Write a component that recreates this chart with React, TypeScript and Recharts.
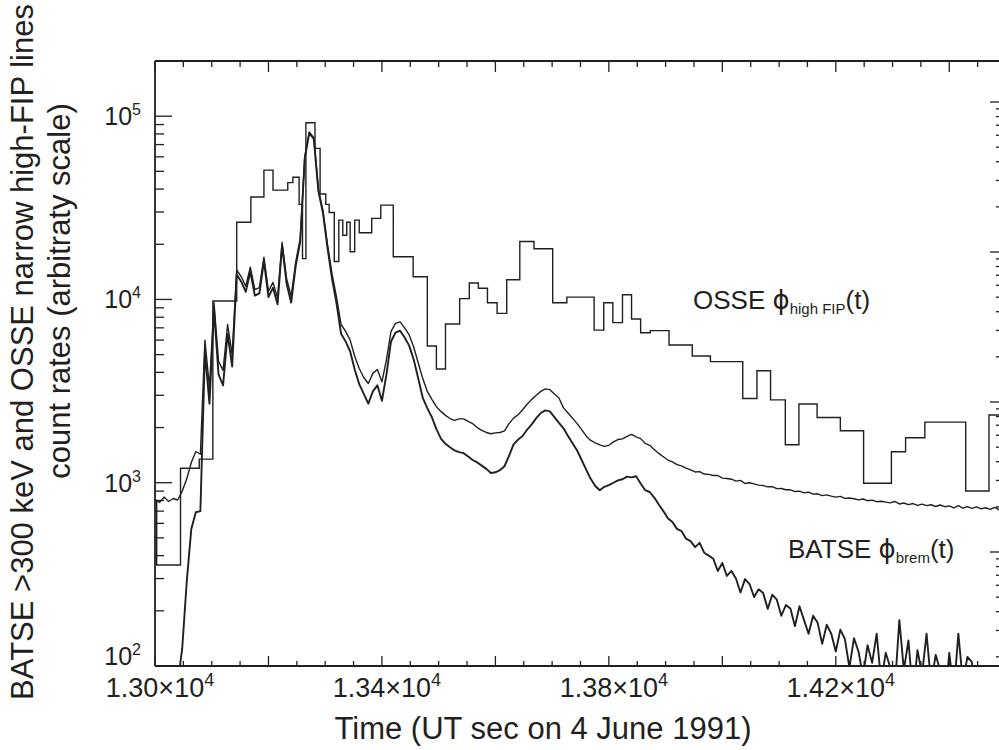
import React from "react";
import { LineChart, Line, XAxis, YAxis } from "recharts";

const INK = "#231f20";
const SANS = "'Liberation Sans', Arial, Helvetica, sans-serif";
const PHI_FONT = "'DejaVu Sans', 'Liberation Sans', sans-serif";

// OSSE narrow high-FIP line count rate: bin start times (UT s) and rates
const osseTimes = [
  13000, 13003, 13045, 13078, 13102, 13144, 13169, 13192, 13208, 13234,
  13243, 13254, 13260, 13266, 13282, 13291, 13301, 13307, 13316, 13324,
  13331, 13338, 13344, 13352, 13360, 13382, 13398, 13420, 13455, 13480,
  13496, 13512, 13537, 13554, 13570, 13586, 13603, 13620, 13643, 13668,
  13701, 13726, 13774, 13791, 13807, 13824, 13840, 13856, 13873, 13906,
  13947, 13979, 14036, 14061, 14085, 14111, 14135, 14167, 14208, 14249,
  14298, 14323, 14357, 14429, 14470, 14500,
];
const osseRates = [
  800, 356, 1200, 1345, 9800, 26400, 36200, 50800, 39500, 43400,
  46400, 33000, 16700, 92000, 66700, 37600, 33000, 29800, 16100, 27100,
  22400, 26400, 18200, 27100, 23100, 27700, 32700, 17100, 13300, 5570,
  4170, 7350, 10100, 12300, 11500, 9600, 8400, 12800, 20700, 18900,
  9600, 10300, 6800, 9600, 7470, 10600, 7820, 6580, 6760, 5640,
  4910, 4580, 2880, 4080, 2830, 1610, 2690, 2270, 1920, 993,
  1475, 1760, 2140, 902, 2340, 2340,
];

// BATSE >300 keV samples: first sample time and cadence (s)
const BATSE_START = 13000;
const BATSE_CADENCE = 8;

// BATSE total count rate (with background)
const batseTotal = [
  810, 780, 835, 790, 820, 805, 900, 1050, 1290, 1480,
  1430, 6000, 3300, 9600, 4600, 4100, 7300, 5000, 14500, 13300,
  11800, 15000, 11300, 11600, 17000, 11100, 12400, 10200, 20500, 13000,
  10400, 16000, 21500, 60000, 82000, 76000, 40000, 30500, 20000, 13800,
  10300, 7300, 6700, 6000, 4900, 4200, 3750, 3480, 3950, 4150,
  3550, 4700, 6700, 7400, 7550, 7000, 6400, 5500, 4500, 3700,
  3150, 2850, 2600, 2450, 2330, 2240, 2190, 2230, 2230, 2160,
  2100, 2000, 1930, 1880, 1850, 1870, 1880, 1920, 2100, 2250,
  2350, 2500, 2680, 2850, 3000, 3150, 3250, 3220, 3050, 2900,
  2560, 2400, 2250, 2100, 1950, 1800, 1700, 1650, 1610, 1580,
  1600, 1670, 1720, 1735, 1790, 1835, 1780, 1740, 1640, 1600,
  1520, 1445, 1385, 1330, 1300, 1255, 1235, 1200, 1175, 1145,
  1150, 1115, 1110, 1095, 1095, 1060, 1055, 1045, 1020, 1030,
  990, 1000, 985, 970, 965, 950, 952, 928, 930, 915,
  915, 895, 900, 880, 888, 866, 870, 850, 858, 845,
  835, 842, 822, 826, 818, 806, 815, 798, 804, 788,
  792, 784, 776, 790, 766, 775, 760, 770, 752, 764,
  750, 758, 742, 756, 740, 748, 730, 750, 726, 740,
  725, 738, 720, 730, 716, 734, 712, 726,
];

// BATSE background-subtracted count rate (bremsstrahlung)
const batseNet = [
  50, 50, 50, 50, 55, 80, 125, 290, 560, 690,
  700, 5200, 2700, 8800, 3900, 3400, 6500, 4300, 13700, 12500,
  11000, 14200, 10500, 10800, 16200, 10300, 11600, 9400, 19700, 12200,
  9600, 15200, 20700, 59000, 81000, 75000, 39000, 29700, 19200, 13000,
  9500, 6500, 5900, 5200, 4150, 3450, 3050, 2700, 3150, 3400,
  2800, 3900, 5900, 6600, 6750, 6200, 5600, 4700, 3700, 2900,
  2550, 2280, 1960, 1740, 1630, 1560, 1500, 1470, 1450, 1390,
  1330, 1290, 1240, 1190, 1130, 1140, 1170, 1230, 1400, 1620,
  1720, 1800, 1950, 2080, 2250, 2400, 2480, 2450, 2280, 2120,
  1980, 1800, 1640, 1500, 1330, 1180, 1050, 960, 910, 950,
  970, 1000, 1030, 1045, 1080, 1070, 1085, 990, 910, 890,
  830, 760, 700, 640, 610, 560, 545, 495, 480, 445,
  470, 415, 400, 385, 330, 365, 310, 330, 300, 252,
  298, 280, 238, 262, 250, 205, 245, 230, 188, 215,
  206, 165, 212, 178, 150, 188, 172, 132, 168, 150,
  120, 158, 140, 98, 142, 120, 88, 130, 104, 150,
  82, 118, 98, 75, 178, 95, 138, 70, 122, 90,
  150, 80, 115, 95, 62, 118, 72, 150, 82, 112,
  105, 60, 72, 55, 66, 50, 58, 50,
];

// Axis tick values
const xTicks = [
  13000, 13050, 13100, 13150, 13200, 13250, 13300, 13350, 13400, 13450,
  13500, 13550, 13600, 13650, 13700, 13750, 13800, 13850, 13900, 13950,
  14000, 14050, 14100, 14150, 14200, 14250, 14300, 14350, 14400, 14450, 14500,
];
const leftTicks = [
  100, 200, 300, 400, 500, 600, 700, 800, 900,
  1000, 2000, 3000, 4000, 5000, 6000, 7000, 8000, 9000,
  10000, 20000, 30000, 40000, 50000, 60000, 70000, 80000, 90000,
  100000,
];
const rightTicks = [
  2, 3, 4, 5, 6, 7, 8, 9,
  10, 20, 30, 40, 50, 60, 70, 80, 90,
  100, 200, 300, 400, 500, 600, 700, 800, 900,
  1000, 2000, 3000, 4000, 5000, 6000, 7000, 8000, 9000,
  10000,
];

const osseData = osseTimes.map((t, i) => ({ t, v: osseRates[i] }));
const totalData = batseTotal.map((v, i) => ({ t: BATSE_START + i * BATSE_CADENCE, v }));
const netData = batseNet.map((v, i) => ({ t: BATSE_START + i * BATSE_CADENCE, v }));

const isPow10 = (v: number) => Math.abs(Math.log10(v) - Math.round(Math.log10(v))) < 1e-9;

function BottomTick(props: any) {
  const { x, y, payload } = props;
  const v = payload.value as number;
  const major = (v - 13000) % 200 === 0;
  const labeled = (v - 13000) % 400 === 0 && v <= 14200;
  return (
    <g>
      <line x1={x} x2={x} y1={y} y2={y - (major ? 10 : 5)} stroke={INK} strokeWidth={1.3} />
      {labeled && (
        <text x={x + 5} y={y + 31} textAnchor="middle" fontFamily={SANS} fontSize={27} fill={INK}>
          {(v / 10000).toFixed(2)}×10
          <tspan dy={-11} fontSize={18}>4</tspan>
        </text>
      )}
    </g>
  );
}

function TopTick(props: any) {
  const { x, y, payload } = props;
  const v = payload.value as number;
  const major = (v - 13000) % 200 === 0;
  return <line x1={x} x2={x} y1={y} y2={y + (major ? 11 : 6)} stroke={INK} strokeWidth={1.3} />;
}

function LeftTick(props: any) {
  const { x, y, payload } = props;
  const v = payload.value as number;
  const major = isPow10(v);
  const exp = Math.round(Math.log10(v));
  return (
    <g>
      <line x1={x} x2={x + (major ? 17 : 9)} y1={y} y2={y} stroke={INK} strokeWidth={1.3} />
      {major && (
        <text x={x - 14} y={y + (exp === 2 ? -1 : 9)} textAnchor="end" fontFamily={SANS} fontSize={25} fill={INK}>
          10
          <tspan dy={-10} fontSize={16}>{exp}</tspan>
        </text>
      )}
    </g>
  );
}

function RightTick(props: any) {
  const { x, y, payload } = props;
  const v = payload.value as number;
  const major = isPow10(v);
  return <line x1={x} x2={x - (major ? 16 : 10)} y1={y} y2={y} stroke={INK} strokeWidth={1.3} />;
}

const axisLine = { stroke: INK, strokeWidth: 1.8 };

export default function App() {
  return (
    <div style={{ position: "absolute", left: 0, top: 0, width: 999, height: 750, overflow: "hidden", background: "#fff" }}>
      <LineChart width={1020} height={750} margin={{ top: 51, right: 4, bottom: 44, left: 95 }}>
        <XAxis
          xAxisId="b"
          dataKey="t"
          type="number"
          orientation="bottom"
          domain={[13000, 14500]}
          allowDataOverflow
          ticks={xTicks}
          interval={0}
          tick={(p: any) => <BottomTick {...p} />}
          tickLine={false}
          tickSize={0}
          tickMargin={0}
          axisLine={axisLine}
          height={40}
        />
        <XAxis
          xAxisId="t"
          dataKey="t"
          type="number"
          orientation="top"
          domain={[13000, 14500]}
          allowDataOverflow
          ticks={xTicks}
          interval={0}
          tick={(p: any) => <TopTick {...p} />}
          tickLine={false}
          tickSize={0}
          tickMargin={0}
          axisLine={axisLine}
          height={10}
        />
        <YAxis
          yAxisId="l"
          type="number"
          scale="log"
          orientation="left"
          domain={[100, 200000]}
          allowDataOverflow
          ticks={leftTicks}
          interval={0}
          tick={(p: any) => <LeftTick {...p} />}
          tickLine={false}
          tickSize={0}
          tickMargin={0}
          axisLine={axisLine}
          width={60}
        />
        <YAxis
          yAxisId="r"
          type="number"
          scale="log"
          orientation="right"
          domain={[1.738, 18770]}
          allowDataOverflow
          ticks={rightTicks}
          interval={0}
          tick={(p: any) => <RightTick {...p} />}
          tickLine={false}
          tickSize={0}
          tickMargin={0}
          axisLine={axisLine}
          width={10}
        />
        <Line
          xAxisId="b"
          yAxisId="l"
          data={osseData}
          dataKey="v"
          type="stepAfter"
          stroke={INK}
          strokeWidth={1.4}
          dot={false}
          activeDot={false}
          isAnimationActive={false}
        />
        <Line
          xAxisId="b"
          yAxisId="l"
          data={totalData}
          dataKey="v"
          type="linear"
          stroke={INK}
          strokeWidth={1.4}
          strokeLinejoin="round"
          dot={false}
          activeDot={false}
          isAnimationActive={false}
        />
        <Line
          xAxisId="b"
          yAxisId="l"
          data={netData}
          dataKey="v"
          type="linear"
          stroke={INK}
          strokeWidth={1.9}
          strokeLinejoin="round"
          dot={false}
          activeDot={false}
          isAnimationActive={false}
        />
      </LineChart>
      <svg width={999} height={750} style={{ position: "absolute", left: 0, top: 0, pointerEvents: "none" }}>
        <g fontFamily={SANS} fill={INK}>
          <text x={693} y={309} fontSize={26}>
            OSSE <tspan fontFamily={PHI_FONT}>ϕ</tspan>
            <tspan fontSize={15} dy={5}>high FIP</tspan>
            <tspan dy={-5}>(t)</tspan>
          </text>
          <text x={788} y={558} fontSize={26}>
            BATSE <tspan fontFamily={PHI_FONT}>ϕ</tspan>
            <tspan fontSize={15} dy={5}>brem</tspan>
            <tspan dy={-5}>(t)</tspan>
          </text>
          <text x={543} y={739} fontSize={31} textAnchor="middle">
            Time (UT sec on 4 June 1991)
          </text>
          <text transform="translate(33,352) rotate(-90)" fontSize={31} textAnchor="middle">
            BATSE &gt;300 keV and OSSE narrow high-FIP lines
          </text>
          <text transform="translate(70,291) rotate(-90)" fontSize={31} textAnchor="middle">
            count rates (arbitraty scale)
          </text>
        </g>
      </svg>
    </div>
  );
}
